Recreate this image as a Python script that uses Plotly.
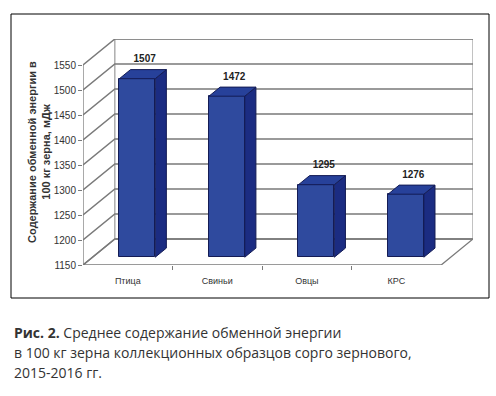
import plotly.graph_objects as go

categories = ["Птица", "Свиньи", "Овцы", "КРС"]
values = [1507, 1472, 1295, 1276]
y_ticks = [1150, 1200, 1250, 1300, 1350, 1400, 1450, 1500, 1550]
y_title = "<b>Содержание обменной энергии в<br>100 кг зерна, мДж</b>"
caption_lines = ["<b>Рис. 2.</b> Среднее содержание обменной энергии",
                 "в 100 кг зерна коллекционных образцов сорго зернового,",
                 "2015-2016 гг."]

W, H = 496, 396
L, R, T, B = 83, 23, 39, 131
pw, ph = W - L - R, H - T - B
YMIN, YMAX = 1150, 1550
n = len(categories)
DX = 32 / 90.0            # depth offset in x units
DY = 52.0                 # depth offset in y units
d0, d1 = 0.3, 0.65        # bar depth span (fraction of total depth)
bw = 0.4

GRID = "#7a7a7a"
FRONT = "#2F4A9E"
TOP = "#27419A"
SIDE = "#1B2C82"
EDGE = "#141c55"

shapes = []
def path(pts):
    return "M " + " L ".join(f"{x},{y}" for x, y in pts) + " Z"

# floor
shapes.append(dict(type="path", xref="x", yref="y", layer="below",
                   path=path([(0, YMIN), (n, YMIN), (n + DX, YMIN + DY), (DX, YMIN + DY)]),
                   fillcolor="white", line=dict(color=GRID, width=1.3)))
# back wall outline
shapes.append(dict(type="rect", xref="x", yref="y", layer="below",
                   x0=DX, x1=n + DX, y0=YMIN + DY, y1=YMAX + DY,
                   line=dict(color="#9a9a9a", width=1.2)))
# gridlines on left wall and back wall
for v in y_ticks:
    shapes.append(dict(type="path", xref="x", yref="y", layer="below",
                       path=f"M 0,{v} L {DX},{v + DY} L {n + DX},{v + DY}",
                       line=dict(color=GRID, width=1.5)))
# front vertical axis line
shapes.append(dict(type="line", xref="x", yref="y", layer="below",
                   x0=0, x1=0, y0=YMIN, y1=YMAX, line=dict(color=GRID, width=1.3)))
# outer frame
shapes.append(dict(type="rect", xref="paper", yref="paper",
                   x0=(11 - L) / pw, x1=(489 - L) / pw, y0=(H - B - 298) / ph, y1=(H - B - 14) / ph,
                   line=dict(color="black", width=1)))

fig = go.Figure()

# bars: front face
xs = [i + 0.5 + d0 * DX for i in range(n)]
fig.add_trace(go.Bar(x=xs, y=[v - YMIN for v in values], base=YMIN + d0 * DY, width=bw,
                     marker=dict(color=FRONT, line=dict(color=EDGE, width=1)),
                     hoverinfo="skip", showlegend=False))
dd = (d1 - d0)
for i, v in enumerate(values):
    x0 = xs[i] - bw / 2
    x1 = xs[i] + bw / 2
    yb = YMIN + d0 * DY
    yt = v + d0 * DY
    # side face
    fig.add_trace(go.Scatter(x=[x1, x1 + dd * DX, x1 + dd * DX, x1, x1],
                             y=[yb, yb + dd * DY, yt + dd * DY, yt, yb],
                             mode="lines", fill="toself", fillcolor=SIDE,
                             line=dict(color=EDGE, width=1), hoverinfo="skip", showlegend=False))
    # top face
    fig.add_trace(go.Scatter(x=[x0, x1, x1 + dd * DX, x0 + dd * DX, x0],
                             y=[yt, yt, yt + dd * DY, yt + dd * DY, yt],
                             mode="lines", fill="toself", fillcolor=TOP,
                             line=dict(color=EDGE, width=1), hoverinfo="skip", showlegend=False))

# value labels
fig.add_trace(go.Scatter(x=[x + dd * DX / 2 + 0.02 for x in xs], y=[v + d1 * DY + 10 for v in values],
                         mode="text", text=[f"<b>{v}</b>" for v in values], textposition="top center",
                         textfont=dict(family="Liberation Sans, Arial", size=10, color="#222"),
                         cliponaxis=False, hoverinfo="skip", showlegend=False))

fig.update_layout(
    width=W, height=H, margin=dict(l=L, r=R, t=T, b=B, autoexpand=False),
    paper_bgcolor="white", plot_bgcolor="white", bargap=0,
    font=dict(family="Liberation Sans, Arial", size=9, color="#333"),
    xaxis=dict(range=[0, n + DX], tickmode="array", tickvals=[i + 0.5 for i in range(n)],
               ticktext=categories, ticks="", showgrid=False, zeroline=False, showline=False,
               automargin=False, tickfont=dict(size=9, color="#333"), ticklabelstandoff=9,
               minor=dict(tickmode="array", tickvals=list(range(1, n)), ticks="outside",
                          ticklen=4, tickcolor=GRID, showgrid=False)),
    yaxis=dict(range=[YMIN, YMAX + DY], tickmode="array", tickvals=y_ticks,
               ticks="outside", ticklen=4, tickcolor=GRID, showgrid=False, zeroline=False,
               showline=False, automargin=False, tickfont=dict(size=10, color="#333"),
               title=dict(text=y_title, font=dict(size=11, color="#333"), standoff=0)),
    annotations=[dict(text=t, x=(12 - L) / pw, y=(H - B - yc) / ph, xref="paper", yref="paper",
                      xanchor="left", yanchor="middle", showarrow=False,
                      font=dict(family="Open Sans", size=14, color="#333"))
                 for t, yc in zip(caption_lines, [332, 352, 372])],
    shapes=shapes,
)

fig.write_html("out.html", config={"displayModeBar": False},
               post_script="document.body.style.margin='0';document.body.style.overflow='hidden';")
